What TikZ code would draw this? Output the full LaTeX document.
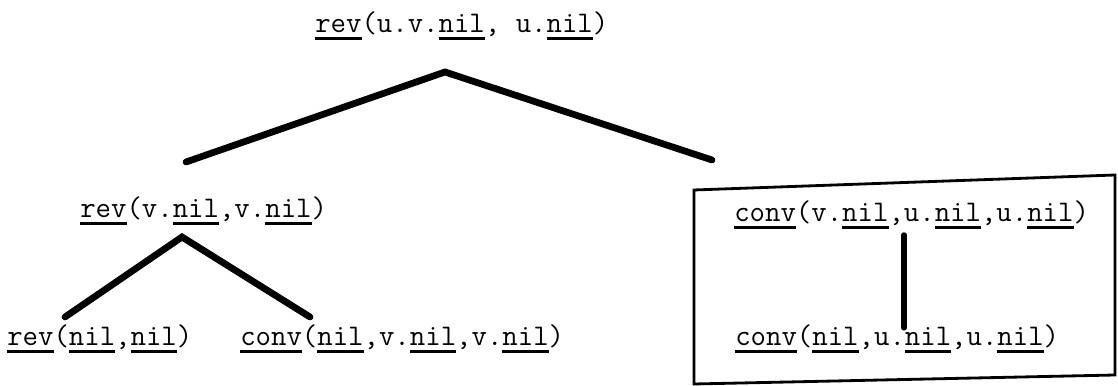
\documentclass[tikz,border=0pt]{standalone}
\usepackage{fontspec}

\newcommand{\kw}[1]{\setbox0\hbox{#1}\rlap{\rule[-4.8pt]{\wd0}{1.6pt}}\box0}

\tikzset{
  term/.style={anchor=base west, inner sep=0pt,
    font={\fontsize{21.3}{21.3}\selectfont\ttfamily\addfontfeatures{FakeBold=1.2}}},
  branch/.style={line width=4.8pt, line cap=round},
}

\begin{document}
\begin{tikzpicture}

\useasboundingbox (0,0) rectangle (27.95,9.65);

\node [term] (root) at (7.875, 8.825) {\kw{rev}(u.v.\kw{nil}, u.\kw{nil})};

\node [term] (lrev) at (2.0, 4.2) {\kw{rev}(v.\kw{nil},v.\kw{nil})};

\node [term] (rconv) at (18.35, 4.1) {\kw{conv}(v.\kw{nil},u.\kw{nil},u.\kw{nil})};

\node [term] (llrev) at (0.175, 1.0) {\kw{rev}(\kw{nil},\kw{nil})};

\node [term] (lrconv) at (6.0, 1.0) {\kw{conv}(\kw{nil},v.\kw{nil},v.\kw{nil})};

\node [term] (rrconv) at (18.375, 1.0) {\kw{conv}(\kw{nil},u.\kw{nil},u.\kw{nil})};

\coordinate (root-fork) at (11.125, 7.85);
\coordinate (root-l) at (4.65, 5.6);
\coordinate (root-r) at (17.8, 5.65);
\coordinate (lrev-fork) at (4.55, 3.725);
\coordinate (lrev-l) at (1.625, 1.725);
\coordinate (lrev-r) at (7.75, 1.725);
\coordinate (rconv-top) at (22.6, 3.78);
\coordinate (rconv-bot) at (22.6, 1.45);

\draw [branch] (root-l) -- (root-fork) -- (root-r);
\draw [branch] (lrev-l) -- (lrev-fork) -- (lrev-r);
\draw [branch, line width=3.6pt] (rconv-top) -- (rconv-bot);

\draw [line width=2pt] (17.35, 4.9) -- (27.875, 5.275) -- (27.875, 0.275)
  -- (17.35, 0.05) -- cycle;

\end{tikzpicture}
\end{document}
